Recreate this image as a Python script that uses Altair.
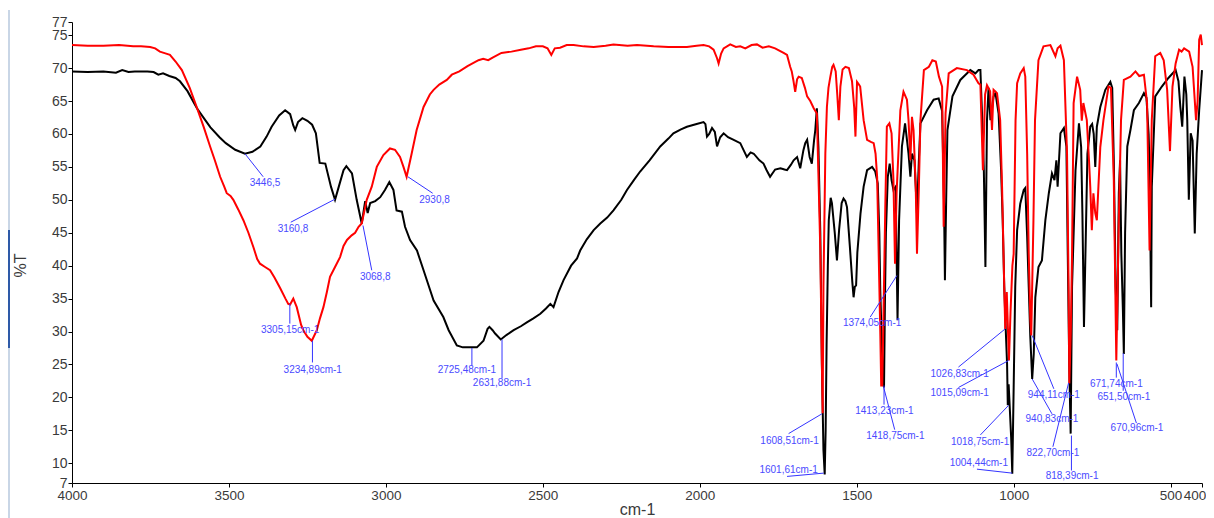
import altair as alt
import pandas as pd

# ---------------- data (wavenumber cm-1, %T) ----------------
BLACK = [
    (4000, 69.5), (3950, 69.4), (3900, 69.5), (3860, 69.3), (3840, 69.7), (3820, 69.4),
    (3800, 69.5), (3760, 69.5), (3740, 69.4), (3725, 69.0), (3710, 69.2), (3690, 68.8),
    (3670, 68.5), (3656, 68.0), (3632, 66.5), (3602, 63.9), (3580, 62.4), (3559, 61.0),
    (3530, 59.5), (3510, 58.6), (3480, 57.6), (3449, 57.0), (3425, 57.3), (3400, 58.1),
    (3380, 59.6), (3364, 61.1), (3340, 62.8), (3321, 63.6), (3305, 63.0), (3295, 61.3),
    (3289, 60.6), (3280, 61.8), (3266, 62.4), (3250, 62.0), (3235, 61.4), (3223, 60.1),
    (3211, 55.6), (3193, 55.5), (3175, 52.0), (3162, 50.0), (3150, 52.0), (3135, 54.5),
    (3126, 55.1), (3108, 54.0), (3093, 50.0), (3077, 46.4), (3066, 49.8), (3058, 48.0),
    (3050, 49.5), (3034, 49.8), (3018, 50.4), (3003, 51.5), (2989, 52.7), (2976, 51.5),
    (2966, 48.4), (2949, 48.2), (2939, 45.9), (2923, 43.9), (2901, 42.3), (2880, 39.3),
    (2848, 34.7), (2817, 32.2), (2800, 30.2), (2774, 27.9), (2755, 27.6), (2732, 27.6),
    (2710, 27.6), (2689, 28.6), (2676, 30.4), (2670, 30.7), (2660, 30.2), (2652, 29.7),
    (2634, 28.8), (2615, 29.5), (2593, 30.2), (2570, 30.8), (2551, 31.4), (2530, 32.0),
    (2508, 32.7), (2490, 33.5), (2476, 34.2), (2466, 33.7), (2450, 36.0), (2434, 37.8),
    (2410, 40.0), (2391, 41.1), (2381, 42.3), (2360, 44.0), (2338, 45.4), (2317, 46.4),
    (2295, 47.3), (2275, 48.4), (2250, 50.0), (2232, 51.5), (2210, 53.0), (2190, 54.3),
    (2160, 56.0), (2126, 58.1), (2100, 59.3), (2084, 60.1), (2060, 60.7), (2041, 61.1),
    (2010, 61.5), (1988, 61.8), (1982, 61.5), (1977, 59.6), (1970, 60.0), (1961, 60.9),
    (1952, 60.3), (1945, 58.1), (1935, 59.5), (1924, 60.1), (1910, 59.5), (1892, 59.1),
    (1871, 58.6), (1860, 57.5), (1850, 56.5), (1838, 57.2), (1828, 57.0), (1810, 56.0),
    (1797, 55.5), (1787, 54.5), (1776, 53.5), (1760, 54.6), (1743, 54.8), (1730, 54.6),
    (1722, 54.5), (1710, 55.3), (1701, 56.0), (1690, 56.5), (1680, 54.8), (1670, 57.5),
    (1664, 58.6), (1658, 59.1), (1650, 56.5), (1643, 55.5), (1636, 59.0), (1632, 60.6),
    (1627, 63.9), (1622, 58.0), (1616, 45.0), (1611, 25.0), (1606, 12.0), (1602, 8.3),
    (1599, 15.0), (1596, 28.0), (1592, 40.0), (1589, 46.9), (1583, 50.3), (1579, 49.5),
    (1570, 45.0), (1563, 40.8), (1556, 45.5), (1548, 49.5), (1542, 50.2), (1536, 49.8),
    (1531, 48.9), (1522, 43.0), (1514, 37.5), (1510, 35.2), (1506, 36.8), (1502, 37.0),
    (1498, 42.0), (1488, 47.9), (1478, 52.0), (1467, 54.5), (1451, 55.0), (1441, 54.3),
    (1433, 52.5), (1428, 45.0), (1425, 36.3), (1420, 28.0), (1417, 23.0), (1413, 21.5),
    (1410, 35.0), (1407, 45.0), (1401, 53.5), (1395, 55.5), (1389, 53.0), (1383, 51.5),
    (1376, 52.0), (1370, 31.7), (1365, 46.9), (1356, 58.1), (1346, 61.6), (1335, 57.0),
    (1329, 53.5), (1324, 57.0), (1316, 56.0), (1308, 47.9), (1302, 56.0), (1297, 61.6),
    (1276, 63.6), (1255, 65.2), (1239, 65.4), (1228, 63.5), (1222, 50.0), (1219, 37.8),
    (1215, 50.0), (1211, 60.6), (1195, 65.7), (1170, 68.2), (1138, 69.7), (1122, 69.2),
    (1112, 69.7), (1106, 69.7), (1100, 62.0), (1095, 54.5), (1090, 39.8), (1085, 62.1),
    (1080, 67.0), (1074, 62.1), (1064, 65.7), (1058, 66.2), (1048, 63.1), (1040, 54.5),
    (1035, 47.0), (1030, 36.8), (1025, 30.0), (1021, 25.1), (1018.75, 18.8), (1016, 22.0),
    (1013, 19.0), (1008, 13.9), (1004.4, 8.4), (1000, 21.5), (995, 36.8), (989, 45.4),
    (979, 49.4), (968, 51.5), (963, 51.8), (957, 44.4), (952, 36.8), (947, 29.2),
    (941, 22.8), (936, 26.6), (931, 35.2), (921, 39.8), (910, 40.8), (899, 46.9),
    (888, 51.0), (878, 54.0), (870, 53.0), (864, 56.0), (860, 52.0), (851, 60.1),
    (840, 60.9), (832, 58.1), (827, 39.3), (823, 25.0), (818.4, 14.5), (814, 36.8),
    (803, 54.5), (792, 61.6), (785, 58.0), (781, 47.9), (776, 30.7), (770, 45.0),
    (765, 57.0), (756, 61.1), (750, 61.5), (745, 60.0), (740, 55.0), (735, 61.1),
    (724, 64.1), (708, 66.7), (692, 67.9), (686, 67.0), (681, 56.0), (675, 36.8),
    (670, 30.2), (665, 51.0), (661, 56.0), (657, 41.8), (652, 33.2), (649, 26.6),
    (645, 45.0), (638, 58.1), (628, 60.6), (617, 63.6), (601, 64.7), (585, 66.2),
    (577, 65.5), (570, 60.0), (567, 54.5), (562, 33.7), (560, 52.0), (549, 65.7),
    (528, 67.2), (507, 68.5), (484, 69.7), (475, 68.0), (469, 64.1), (463, 61.1),
    (456, 68.7), (450, 66.0), (447, 62.1), (442, 50.0), (436, 60.1), (430, 59.0),
    (423, 44.9), (417, 57.0), (409, 63.6), (400, 69.7),
]

RED = [
    (4000, 73.5), (3950, 73.4), (3900, 73.4), (3850, 73.5), (3805, 73.3), (3780, 73.3),
    (3751, 73.2), (3735, 73.0), (3720, 72.5), (3700, 72.2), (3688, 72.0), (3670, 71.0),
    (3650, 69.7), (3625, 67.0), (3603, 64.1), (3580, 61.0), (3560, 58.1), (3545, 56.0),
    (3528, 53.5), (3515, 52.0), (3507, 51.0), (3495, 50.6), (3486, 50.0), (3470, 48.5),
    (3454, 46.9), (3438, 45.0), (3422, 42.8), (3410, 41.0), (3401, 40.3), (3385, 39.8),
    (3369, 39.3), (3355, 38.2), (3337, 36.6), (3320, 35.0), (3311, 34.2), (3305, 34.1),
    (3295, 35.0), (3284, 33.7), (3270, 31.0), (3263, 30.2), (3250, 29.2), (3236, 28.6),
    (3220, 30.2), (3210, 32.0), (3199, 33.7), (3188, 36.0), (3178, 38.3), (3162, 39.8),
    (3146, 41.3), (3135, 43.0), (3124, 43.9), (3109, 44.6), (3098, 45.0), (3087, 45.9),
    (3077, 46.4), (3061, 50.0), (3045, 52.0), (3029, 55.0), (3008, 56.8), (2987, 57.8),
    (2971, 57.6), (2955, 56.5), (2944, 55.0), (2934, 53.5), (2918, 57.0), (2902, 60.6),
    (2880, 64.1), (2860, 66.0), (2848, 66.7), (2830, 67.5), (2806, 68.2), (2790, 69.0),
    (2766, 69.5), (2740, 70.3), (2705, 71.2), (2690, 71.4), (2674, 71.2), (2660, 71.6),
    (2632, 72.3), (2600, 72.5), (2570, 72.8), (2545, 73.0), (2522, 73.3), (2500, 73.3),
    (2485, 73.0), (2473, 72.0), (2462, 73.0), (2445, 73.1), (2424, 73.5), (2402, 73.5),
    (2370, 73.3), (2338, 73.2), (2300, 73.4), (2275, 73.6), (2230, 73.4), (2200, 73.5),
    (2147, 73.3), (2100, 73.2), (2041, 73.2), (2010, 73.4), (1988, 73.5), (1970, 73.3),
    (1956, 72.8), (1945, 71.5), (1940, 70.7), (1932, 72.2), (1924, 73.0), (1903, 73.6),
    (1885, 73.2), (1871, 73.3), (1855, 73.0), (1835, 73.5), (1818, 73.6), (1800, 73.1),
    (1780, 73.3), (1760, 73.0), (1733, 72.3), (1722, 72.0), (1712, 70.2), (1707, 69.5),
    (1702, 68.2), (1696, 66.4), (1690, 68.3), (1685, 68.7), (1675, 68.5), (1665, 67.0),
    (1658, 65.7), (1648, 65.0), (1637, 63.9), (1627, 63.1), (1621, 52.0), (1616, 42.3),
    (1611, 25.0), (1608.5, 17.6), (1606, 36.8), (1600, 57.0), (1595, 64.1), (1590, 67.0),
    (1584, 68.7), (1578, 70.2), (1574, 70.5), (1567, 69.5), (1562, 66.0), (1557, 62.1),
    (1552, 67.2), (1545, 69.8), (1536, 70.2), (1525, 70.0), (1515, 68.0), (1508, 64.0),
    (1504, 59.6), (1499, 67.9), (1493, 67.5), (1489, 67.2), (1478, 62.1), (1467, 59.1),
    (1455, 58.8), (1446, 58.6), (1440, 57.0), (1435, 53.5), (1430, 41.8), (1425, 30.0),
    (1422, 21.8), (1418.75, 21.8), (1415, 31.7), (1409, 48.9), (1404, 61.1), (1396, 61.6),
    (1389, 60.1), (1383, 53.0), (1378, 40.3), (1373, 51.0), (1361, 63.6), (1351, 66.4),
    (1340, 65.2), (1335, 62.1), (1329, 56.0), (1324, 62.6), (1319, 60.6), (1312, 52.0),
    (1308, 41.8), (1302, 52.0), (1297, 62.1), (1286, 69.7), (1270, 70.2), (1259, 71.2),
    (1248, 71.0), (1238, 68.7), (1228, 67.2), (1223, 45.9), (1217, 63.1), (1207, 69.2),
    (1181, 70.0), (1149, 69.7), (1128, 69.0), (1112, 67.7), (1106, 67.5), (1098, 54.5),
    (1091, 66.0), (1085, 67.4), (1075, 66.5), (1069, 60.6), (1064, 66.7), (1053, 66.2),
    (1043, 62.1), (1037, 52.0), (1030, 36.8), (1026.8, 30.4), (1022, 36.0), (1018, 30.0),
    (1015, 25.6), (1010, 33.0), (1004, 40.0), (1000, 41.8), (994, 62.1), (989, 67.7),
    (979, 69.2), (968, 70.0), (963, 68.7), (957, 57.0), (952, 41.8), (947, 32.0),
    (944, 29.4), (937, 46.9), (932, 62.1), (921, 71.2), (905, 73.3), (883, 73.5),
    (867, 71.8), (860, 73.0), (851, 73.4), (840, 71.2), (830, 57.0), (825, 36.8),
    (822.7, 22.1), (818, 30.0), (814, 41.8), (809, 64.7), (798, 68.7), (788, 66.7),
    (783, 62.0), (778, 64.7), (767, 62.1), (760, 56.0), (756, 52.0), (751, 45.4),
    (746, 51.0), (740, 48.0), (735, 46.9), (730, 52.0), (724, 58.0), (714, 62.1),
    (698, 67.2), (690, 67.0), (681, 53.0), (673, 25.6), (665, 46.9), (658, 62.1),
    (649, 68.2), (628, 68.7), (612, 69.5), (600, 68.8), (585, 69.0), (575, 64.7),
    (567, 42.3), (560, 62.1), (549, 71.8), (533, 72.3), (522, 71.2), (511, 66.7),
    (502, 57.4), (494, 67.2), (484, 70.7), (473, 72.8), (465, 72.5), (457, 73.0),
    (441, 72.5), (430, 70.2), (419, 62.1), (414, 65.0), (409, 74.3), (404, 75.1),
    (400, 73.5),
]

# peak annotations: label, text position, leader line (from -> to)
ANN_LABEL = ["3446,5", "3160,8", "2930,8", "3068,8", "3305,15cm-1", "3234,89cm-1",
             "2725,48cm-1", "2631,88cm-1", "1374,05cm-1", "1413,23cm-1", "1418,75cm-1",
             "1608,51cm-1", "1601,61cm-1", "1026,83cm-1", "1015,09cm-1", "1018,75cm-1",
             "1004,44cm-1", "944,11cm-1", "940,83cm-1", "822,70cm-1", "818,39cm-1",
             "671,74cm-1", "651,50cm-1", "670,96cm-1"]
ANN_WN = [3385, 3296, 2845, 3034, 3305, 3233, 2742, 2630, 1451, 1412, 1377, 1714, 1717,
          1172, 1172, 1107, 1111, 872, 878, 875, 814, 673, 649, 607]
ANN_T = [52.6, 45.5, 50.0, 38.3, 30.3, 24.1, 24.2, 22.2, 31.3, 17.9, 14.2, 13.4, 9.0,
         23.6, 20.6, 13.3, 10.1, 20.3, 16.7, 11.6, 8.0, 22.1, 20.1, 15.3]
LEAD_WN1 = [3449, 3162, 2930, 3073, 3306, 3234, 2726, 2630, 1372, 1413, 1414, 1611, 1605,
            1027, 1016, 1016, 1005, 941, 941, 825, 816, 673, 651, 671]
LEAD_T1 = [57.0, 50.1, 53.5, 46.1, 34.2, 28.6, 27.5, 28.8, 38.5, 21.8, 21.5, 17.5, 8.5,
           30.4, 25.6, 18.8, 8.5, 29.4, 22.8, 22.2, 14.2, 25.3, 26.7, 25.1]
LEAD_WN2 = [3391, 3303, 2851, 3045, 3306, 3234, 2726, 2630, 1457, 1413, 1379, 1717, 1722,
            1176, 1176, 1106, 1117, 872, 878, 875, 816, 673, 651, 609]
LEAD_T2 = [53.5, 46.6, 51.0, 39.3, 31.2, 25.3, 24.8, 22.9, 32.2, 18.9, 15.1, 14.5, 8.0,
           24.6, 21.5, 14.3, 9.1, 21.3, 17.5, 12.5, 8.9, 23.0, 21.0, 16.1]

X_TICKS = [4000, 3500, 3000, 2500, 2000, 1500, 1000, 500, 400]
Y_TICKS = [7, 10, 15, 20, 25, 30, 35, 40, 45, 50, 55, 60, 65, 70, 75, 77]

# ---------------- tables ----------------
black_df = pd.DataFrame(BLACK, columns=["wn", "T"])
red_df = pd.DataFrame(RED, columns=["wn", "T"])
ann_df = pd.DataFrame({"label": ANN_LABEL, "wn": ANN_WN, "T": ANN_T})
lead_df = pd.DataFrame({"wn": LEAD_WN1, "T": LEAD_T1, "wn2": LEAD_WN2, "T2": LEAD_T2})

AX_FONT = "Liberation Sans, Arial, sans-serif"

xscale = alt.Scale(domain=[400, 4000], reverse=True, nice=False, zero=False)
yscale = alt.Scale(domain=[7, 77], nice=False, zero=False)

xaxis = alt.Axis(values=X_TICKS, format="d", title="cm-1", grid=False, labelFlush=False,
                 labelOverlap=False, tickSize=4, labelPadding=1, titlePadding=0,
                 labelFontSize=13.5, titleFontSize=16,
                 labelOffset={"condition": {"test": "datum.value == 400", "value": -7.5},
                              "value": 0})
yaxis = alt.Axis(values=Y_TICKS, format="d", title="%T", grid=False, labelFlush=False,
                 labelOverlap=False, tickSize=4, labelPadding=1,
                 labelFontSize=14, titleFontSize=16, titleX=-52, titleY=243,
                 titleAngle=270, titleAlign="center", titleBaseline="middle")

X = alt.X("wn:Q", scale=xscale, axis=xaxis)
Y = alt.Y("T:Q", scale=yscale, axis=yaxis)

black_line = alt.Chart(black_df).mark_line(color="#000000", strokeWidth=2).encode(
    x=X, y=Y, order="wn:Q")
red_line = alt.Chart(red_df).mark_line(color="#ff0000", strokeWidth=2).encode(
    x=X, y=Y, order="wn:Q")

leaders = alt.Chart(lead_df).mark_rule(color="#3434ff", strokeWidth=1).encode(
    x=X, y=Y, x2="wn2:Q", y2="T2:Q")

labels = alt.Chart(ann_df).mark_text(fontSize=10, color="#4a4aff",
                                     font="Liberation Sans, Arial, sans-serif").encode(
    x=X, y=Y, text="label:N")

# window-edge decoration at the far left of the picture
edge_df = pd.DataFrame({"k": [0]})
edge_light = alt.Chart(edge_df).mark_rule(color="#c9d6e6", strokeWidth=2).encode(
    x=alt.value(-63), y=alt.value(-12), y2=alt.value(500))
edge_dark = alt.Chart(edge_df).mark_rule(color="#2e5aa8", strokeWidth=2).encode(
    x=alt.value(-63), y=alt.value(208), y2=alt.value(326))

chart = alt.layer(edge_light, edge_dark, black_line, red_line, leaders, labels).properties(
    width=1130, height=461,
    padding={"left": 64, "top": 14, "right": 4, "bottom": 36},
    autosize=alt.AutoSizeParams(type="none"),
).configure_view(stroke=None).configure_axis(
    domainColor="#000000", tickColor="#000000", labelColor="#3a3a3a",
    titleColor="#3a3a3a", labelFont=AX_FONT, titleFont=AX_FONT,
    titleFontWeight="normal",
)

chart.save("out.html", embed_options={"renderer": "svg", "actions": False})
